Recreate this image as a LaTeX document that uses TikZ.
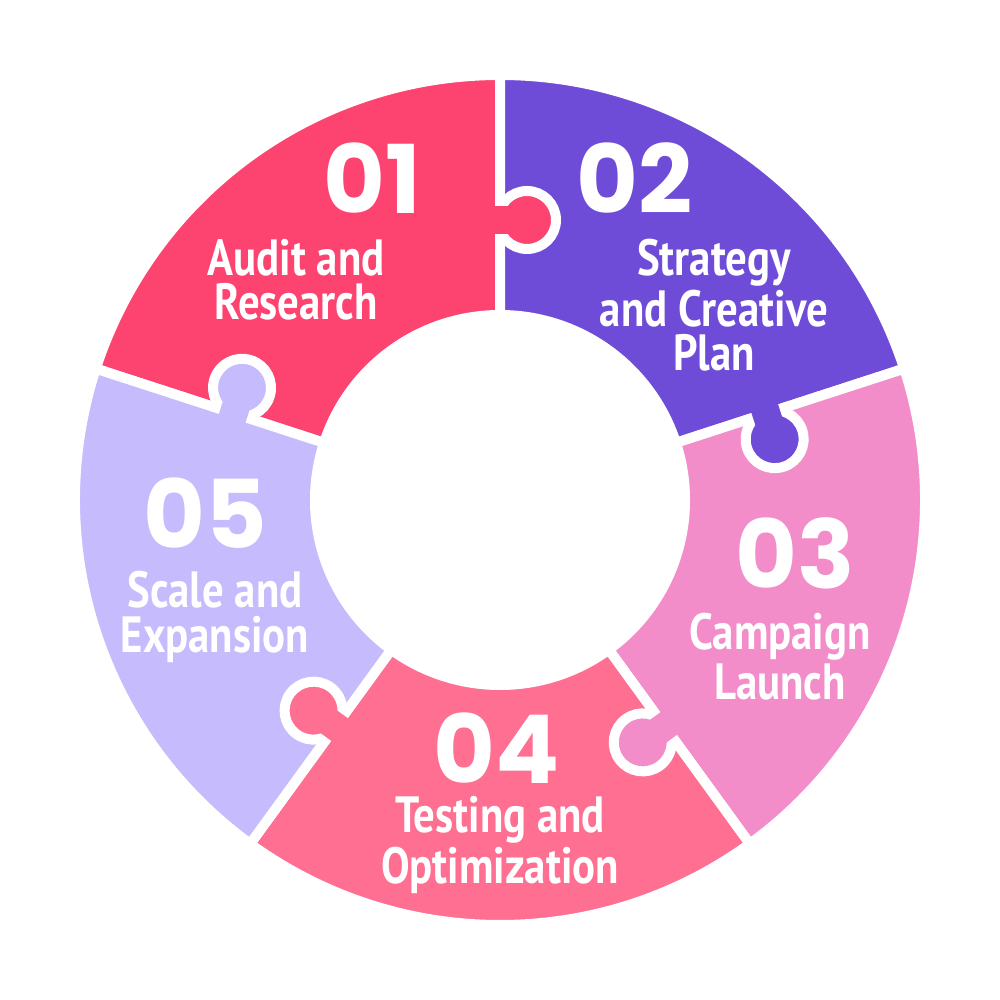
\documentclass[tikz,border=0pt]{standalone}
\usepackage{fontspec}
\setmainfont{PT Sans}[FakeStretch=0.84]
\newfontfamily\numfont{Poppins}
\usetikzlibrary{positioning}
\definecolor{segA}{HTML}{FD4370}
\definecolor{segB}{HTML}{6E4CD8}
\definecolor{segC}{HTML}{F28DCA}
\definecolor{segD}{HTML}{FE6F92}
\definecolor{segE}{HTML}{C5BBFD}
\tikzset{
    gap/.style={draw=white, line width=0.1cm},
    num/.style={text=white, font=\numfont\bfseries\fontsize{27}{27}\selectfont},
    phase/.style={text=white, align=center, font=\bfseries\fontsize{14.5}{12.6}\selectfont}
}
\begin{document}
\begin{tikzpicture}
    \fill[white] (-5,-5) rectangle (5,5);
    \useasboundingbox (-5,-5) rectangle (5,5);

    % segments: colour/clockwise boundary angle
    \foreach \c/\b in {segA/90, segB/18, segC/-54, segD/-126, segE/-198} {
        \pgfmathsetmacro{\e}{\b+72}
        \fill[\c, gap] (\b:1.85) arc (\b:\e:1.85) -- (\e:4.25) arc (\e:\b:4.25) -- cycle;
    }

    % puzzle knobs
    \foreach \c/\b in {segA/90, segB/18, segC/-54, segD/-126, segE/-198} {
        \begin{scope}[rotate=\b]
            \fill[\c, gap] (2.8,-0.27) circle (0.29);
            \fill[\c] (2.66,0.12) rectangle (2.94,-0.12);
        \end{scope}
    }

    % labels
    \node[num] (n1) at (-1.28,3.22) {01};
    \node[phase] (t1) at (-2.04,2.2) {Audit and\\Research};
    \node[num] (n2) at (1.35,3.22) {02};
    \node[phase] (t2) at (2.14,1.95) {Strategy\\and Creative\\Plan};
    \node[num] (n3) at (2.95,-0.53) {03};
    \node[phase] (t3) at (2.8,-1.57) {Campaign\\Launch};
    \node[num] (n4) at (-0.03,-2.48) {04};
    \node[phase] (t4) at (0,-3.45) {Testing and\\Optimization};
    \node[num] (n5) at (-2.95,-0.13) {05};
    \node[phase] (t5) at (-2.85,-1.17) {Scale and\\Expansion};
\end{tikzpicture}
\end{document}
